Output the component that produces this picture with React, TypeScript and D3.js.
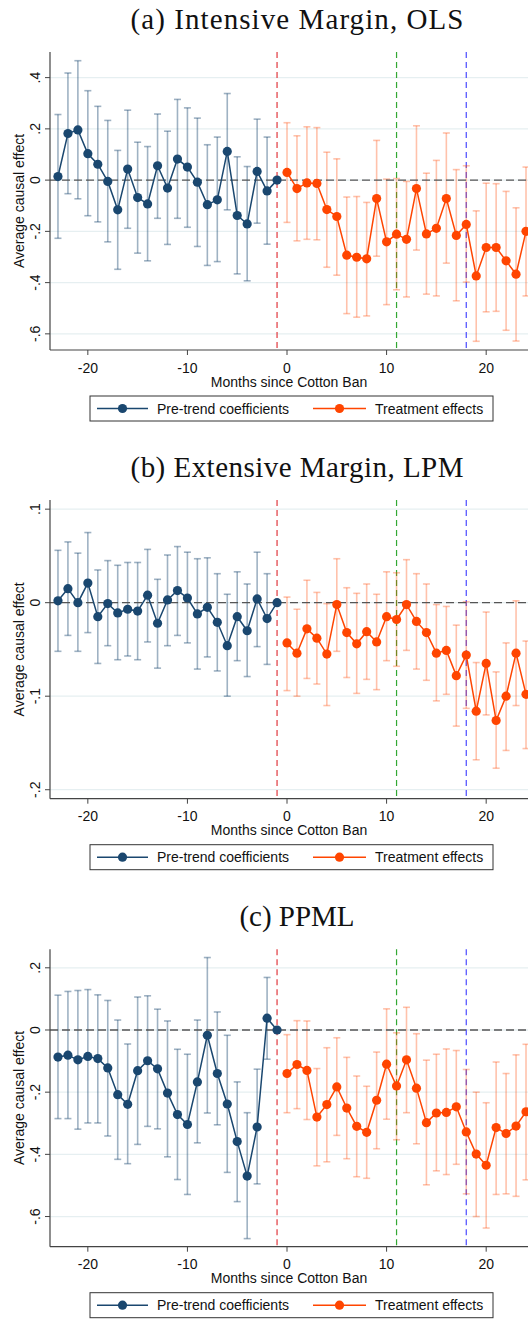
import * as d3 from "d3";
import { useEffect, useRef } from "react";

// event-time months
const preMonths = [-23, -22, -21, -20, -19, -18, -17, -16, -15, -14, -13, -12, -11, -10, -9, -8, -7, -6, -5, -4, -3, -2, -1];
const postMonths = [0, 1, 2, 3, 4, 5, 6, 7, 8, 9, 10, 11, 12, 13, 14, 15, 16, 17, 18, 19, 20, 21, 22, 23, 24];

// (a) Intensive margin, OLS
const olsPreCoef = [0.014, 0.182, 0.196, 0.103, 0.062, -0.005, -0.116, 0.043, -0.068, -0.093, 0.056, -0.031, 0.082, 0.051, -0.008, -0.096, -0.077, 0.112, -0.138, -0.171, 0.034, -0.042, 0];
const olsPreHi = [0.256, 0.418, 0.466, 0.349, 0.288, 0.233, 0.116, 0.273, 0.148, 0.131, 0.258, 0.191, 0.315, 0.282, 0.242, 0.138, 0.168, 0.338, 0.091, 0.053, 0.238, 0.168, null];
const olsPreLo = [-0.227, -0.053, -0.073, -0.139, -0.163, -0.241, -0.348, -0.188, -0.285, -0.315, -0.149, -0.251, -0.149, -0.184, -0.259, -0.333, -0.318, -0.116, -0.366, -0.393, -0.168, -0.25, null];
const olsPostCoef = [0.03, -0.033, -0.011, -0.013, -0.115, -0.142, -0.293, -0.301, -0.307, -0.072, -0.241, -0.211, -0.231, -0.033, -0.21, -0.188, -0.072, -0.216, -0.173, -0.374, -0.263, -0.263, -0.315, -0.367, -0.2];
const olsPostHi = [0.224, 0.173, 0.208, 0.205, 0.109, 0.083, -0.066, -0.064, -0.087, 0.155, 0.004, 0.006, -0.005, 0.212, 0.027, 0.077, 0.184, 0.041, 0.056, -0.12, -0.012, -0.014, -0.044, -0.108, 0.051];
const olsPostLo = [-0.165, -0.237, -0.231, -0.233, -0.34, -0.371, -0.521, -0.535, -0.53, -0.297, -0.486, -0.428, -0.456, -0.273, -0.445, -0.452, -0.324, -0.471, -0.398, -0.629, -0.514, -0.512, -0.586, -0.628, -0.452];

// (b) Extensive margin, LPM
const lpmPreCoef = [0.002, 0.015, 0.0, 0.021, -0.015, -0.001, -0.011, -0.007, -0.009, 0.008, -0.022, 0.003, 0.013, 0.005, -0.012, -0.005, -0.021, -0.046, -0.015, -0.03, 0.004, -0.017, 0];
const lpmPreHi = [0.056, 0.065, 0.053, 0.075, 0.035, 0.045, 0.04, 0.043, 0.043, 0.057, 0.025, 0.051, 0.06, 0.054, 0.047, 0.048, 0.031, 0.009, 0.033, 0.02, 0.054, 0.031, null];
const lpmPreLo = [-0.052, -0.035, -0.052, -0.032, -0.065, -0.046, -0.061, -0.057, -0.061, -0.042, -0.07, -0.046, -0.035, -0.043, -0.071, -0.058, -0.073, -0.1, -0.062, -0.079, -0.047, -0.066, null];
const lpmPostCoef = [-0.043, -0.054, -0.028, -0.038, -0.055, -0.002, -0.032, -0.044, -0.031, -0.042, -0.015, -0.018, -0.002, -0.02, -0.032, -0.054, -0.051, -0.078, -0.056, -0.116, -0.065, -0.126, -0.1, -0.054, -0.098];
const lpmPostHi = [0.006, -0.007, 0.024, 0.011, -0.001, 0.047, 0.016, 0.01, 0.02, 0.009, 0.033, 0.032, 0.046, 0.031, 0.02, -0.002, -0.004, -0.024, 0.001, -0.064, -0.01, -0.074, -0.043, 0.002, -0.041];
const lpmPostLo = [-0.094, -0.1, -0.081, -0.087, -0.11, -0.052, -0.08, -0.097, -0.082, -0.093, -0.062, -0.068, -0.051, -0.071, -0.083, -0.105, -0.098, -0.132, -0.113, -0.168, -0.12, -0.177, -0.158, -0.11, -0.156];

// (c) PPML
const ppmlPreCoef = [-0.087, -0.081, -0.096, -0.085, -0.092, -0.122, -0.208, -0.239, -0.131, -0.099, -0.125, -0.203, -0.272, -0.304, -0.167, -0.017, -0.14, -0.238, -0.359, -0.47, -0.312, 0.038, 0];
const ppmlPreHi = [0.112, 0.124, 0.127, 0.13, 0.113, 0.095, 0.032, -0.045, 0.106, 0.11, 0.067, 0.029, -0.062, -0.078, 0.032, 0.233, 0.058, -0.017, -0.167, -0.266, -0.126, 0.169, null];
const ppmlPreLo = [-0.285, -0.285, -0.319, -0.299, -0.299, -0.341, -0.416, -0.43, -0.368, -0.31, -0.318, -0.408, -0.481, -0.529, -0.363, -0.267, -0.305, -0.458, -0.552, -0.671, -0.495, -0.094, null];
const ppmlPostCoef = [-0.14, -0.111, -0.13, -0.28, -0.24, -0.183, -0.251, -0.31, -0.329, -0.226, -0.11, -0.18, -0.096, -0.187, -0.298, -0.267, -0.265, -0.247, -0.328, -0.399, -0.435, -0.314, -0.333, -0.309, -0.263];
const ppmlPostHi = [-0.015, 0.03, 0.029, -0.124, -0.057, -0.025, -0.088, -0.148, -0.181, -0.071, 0.068, -0.009, 0.073, -0.012, -0.097, -0.078, -0.061, -0.066, -0.127, -0.2, -0.234, -0.103, -0.14, -0.08, -0.046];
const ppmlPostLo = [-0.266, -0.253, -0.288, -0.437, -0.424, -0.339, -0.414, -0.472, -0.477, -0.382, -0.287, -0.353, -0.266, -0.366, -0.498, -0.453, -0.465, -0.432, -0.527, -0.6, -0.637, -0.529, -0.527, -0.535, -0.482];

const titles = ["(a) Intensive Margin, OLS", "(b) Extensive Margin, LPM", "(c) PPML"];
const olsTicks = [0.4, 0.2, 0, -0.2, -0.4, -0.6];
const olsTickLabels = [".4", ".2", "0", "-.2", "-.4", "-.6"];
const lpmTicks = [0.1, 0, -0.1, -0.2];
const lpmTickLabels = [".1", "0", "-.1", "-.2"];
const ppmlTicks = [0.2, 0, -0.2, -0.4, -0.6];
const ppmlTickLabels = [".2", "0", "-.2", "-.4", "-.6"];
const xTicks = [-20, -10, 0, 10, 20];
const eventLines = [-1, 11, 18];
const eventColors = ["#e0383e", "#33a833", "#4a4aff"];
const legendLabels = ["Pre-trend coefficients", "Treatment effects"];

const NAVY = "#1a476f";
const ORANGE = "#ff4500";

const W = 528;
const H = 1319;

const panels = [
  { title: titles[0], top: 52, bottom: 350, yDomain: [-0.663, 0.5], ticks: olsTicks, tickLabels: olsTickLabels,
    pre: [olsPreCoef, olsPreLo, olsPreHi], post: [olsPostCoef, olsPostLo, olsPostHi] },
  { title: titles[1], top: 500, bottom: 798.7, yDomain: [-0.2096, 0.1098], ticks: lpmTicks, tickLabels: lpmTickLabels,
    pre: [lpmPreCoef, lpmPreLo, lpmPreHi], post: [lpmPostCoef, lpmPostLo, lpmPostHi] },
  { title: titles[2], top: 949.3, bottom: 1246.7, yDomain: [-0.697, 0.2595], ticks: ppmlTicks, tickLabels: ppmlTickLabels,
    pre: [ppmlPreCoef, ppmlPreLo, ppmlPreHi], post: [ppmlPostCoef, ppmlPostLo, ppmlPostHi] },
];

const sans = "'Liberation Sans', Arial, sans-serif";
const serif = "'Liberation Serif', 'Times New Roman', serif";

function App() {
  const ref = useRef<SVGSVGElement>(null);

  useEffect(() => {
    const svg = d3.select(ref.current);
    svg.selectAll("*").remove();

    const left = 50;
    const x = d3.scaleLinear().domain([-23.8, 24.2]).range([left, W]);

    panels.forEach((p) => {
      const y = d3.scaleLinear().domain(p.yDomain).range([p.bottom, p.top]);
      const g = svg.append("g");

      // title
      g.append("text")
        .attr("x", 297)
        .attr("y", p.top - 23)
        .attr("text-anchor", "middle")
        .attr("font-family", serif)
        .attr("font-size", 29)
        .attr("textLength", p.title.length > 12 ? 333 : null)
        .attr("lengthAdjust", "spacing")
        .attr("fill", "#111")
        .text(p.title);

      // gridlines
      g.selectAll(".grid")
        .data(p.ticks)
        .enter()
        .append("line")
        .attr("x1", left)
        .attr("x2", W)
        .attr("y1", (d) => y(d))
        .attr("y2", (d) => y(d))
        .attr("stroke", "#e6eff1")
        .attr("stroke-width", 1.3);

      // event lines
      eventLines.forEach((m, i) => {
        g.append("line")
          .attr("x1", x(m))
          .attr("x2", x(m))
          .attr("y1", p.top)
          .attr("y2", p.bottom)
          .attr("stroke", eventColors[i])
          .attr("stroke-width", 1.2)
          .attr("stroke-dasharray", "6,4");
      });

      const drawSeries = (months: number[], arr: (number | null)[][], color: string, ciOpacity: number) => {
        const [coef, lo, hi] = arr;
        months.forEach((m, i) => {
          if (lo[i] == null || hi[i] == null) return;
          const cx = x(m);
          const ci = g.append("g").attr("stroke", color).attr("stroke-opacity", ciOpacity).attr("stroke-width", 1.6);
          ci.append("line").attr("x1", cx).attr("x2", cx).attr("y1", y(lo[i] as number)).attr("y2", y(hi[i] as number));
          ci.append("line").attr("x1", cx - 3.5).attr("x2", cx + 3.5).attr("y1", y(lo[i] as number)).attr("y2", y(lo[i] as number));
          ci.append("line").attr("x1", cx - 3.5).attr("x2", cx + 3.5).attr("y1", y(hi[i] as number)).attr("y2", y(hi[i] as number));
        });
        return () => {
          const pts = months.map((m, i) => [x(m), y(coef[i] as number)] as [number, number]);
          g.append("path")
            .attr("d", d3.line()(pts))
            .attr("fill", "none")
            .attr("stroke", color)
            .attr("stroke-width", 1.5);
          g.selectAll(null)
            .data(pts)
            .enter()
            .append("circle")
            .attr("cx", (d) => d[0])
            .attr("cy", (d) => d[1])
            .attr("r", 4.6)
            .attr("fill", color);
        };
      };

      const preMarks = drawSeries(preMonths, p.pre, NAVY, 0.42);
      const postMarks = drawSeries(postMonths, p.post, ORANGE, 0.33);

      // zero line
      g.append("line")
        .attr("x1", left)
        .attr("x2", W)
        .attr("y1", y(0))
        .attr("y2", y(0))
        .attr("stroke", "#555")
        .attr("stroke-width", 1.3)
        .attr("stroke-dasharray", "8,4");

      preMarks();
      postMarks();

      // y axis
      g.append("line").attr("x1", left).attr("x2", left).attr("y1", p.top).attr("y2", p.bottom).attr("stroke", "#444").attr("stroke-width", 1.2);
      p.ticks.forEach((t, i) => {
        g.append("line").attr("x1", left - 5).attr("x2", left).attr("y1", y(t)).attr("y2", y(t)).attr("stroke", "#444");
        g.append("text")
          .attr("transform", `translate(${left - 10.5},${y(t)}) rotate(-90)`)
          .attr("text-anchor", "middle")
          .attr("font-family", sans)
          .attr("font-size", 14)
          .attr("fill", "#111")
          .text(p.tickLabels[i]);
      });
      g.append("text")
        .attr("transform", `translate(24,${(p.top + p.bottom) / 2}) rotate(-90)`)
        .attr("text-anchor", "middle")
        .attr("font-family", sans)
        .attr("font-size", 14)
        .attr("fill", "#111")
        .text("Average causal effect");

      // x axis
      g.append("line").attr("x1", left).attr("x2", W).attr("y1", p.bottom).attr("y2", p.bottom).attr("stroke", "#444").attr("stroke-width", 1.2);
      xTicks.forEach((t) => {
        g.append("line").attr("x1", x(t)).attr("x2", x(t)).attr("y1", p.bottom).attr("y2", p.bottom + 5).attr("stroke", "#444");
        g.append("text")
          .attr("x", x(t))
          .attr("y", p.bottom + 22.5)
          .attr("text-anchor", "middle")
          .attr("font-family", sans)
          .attr("font-size", 14)
          .attr("fill", "#111")
          .text(t);
      });
      g.append("text")
        .attr("x", 289)
        .attr("y", p.bottom + 36.5)
        .attr("text-anchor", "middle")
        .attr("font-family", sans)
        .attr("font-size", 14)
        .attr("fill", "#111")
        .text("Months since Cotton Ban");

      // legend
      const ly = p.bottom + 46;
      const lg = g.append("g");
      lg.append("rect").attr("x", 90).attr("y", ly).attr("width", 403).attr("height", 25).attr("fill", "#fff").attr("stroke", "#333").attr("stroke-width", 1);
      const items = [
        { color: NAVY, x0: 97, x1: 148, tx: 157 },
        { color: ORANGE, x0: 313, x1: 366, tx: 375 },
      ];
      items.forEach((it, i) => {
        lg.append("line").attr("x1", it.x0).attr("x2", it.x1).attr("y1", ly + 12.5).attr("y2", ly + 12.5).attr("stroke", it.color).attr("stroke-width", 1.5);
        lg.append("circle").attr("cx", (it.x0 + it.x1) / 2).attr("cy", ly + 12.5).attr("r", 4.6).attr("fill", it.color);
        lg.append("text")
          .attr("x", it.tx)
          .attr("y", ly + 17.5)
          .attr("font-family", sans)
          .attr("font-size", 14)
          .attr("fill", "#111")
          .text(legendLabels[i]);
      });
    });
  }, []);

  return (
    <div>
      <style>{"body{margin:0}"}</style>
      <svg ref={ref} width={W} height={H} style={{ display: "block", background: "#fff" }} />
    </div>
  );
}

export default App;
